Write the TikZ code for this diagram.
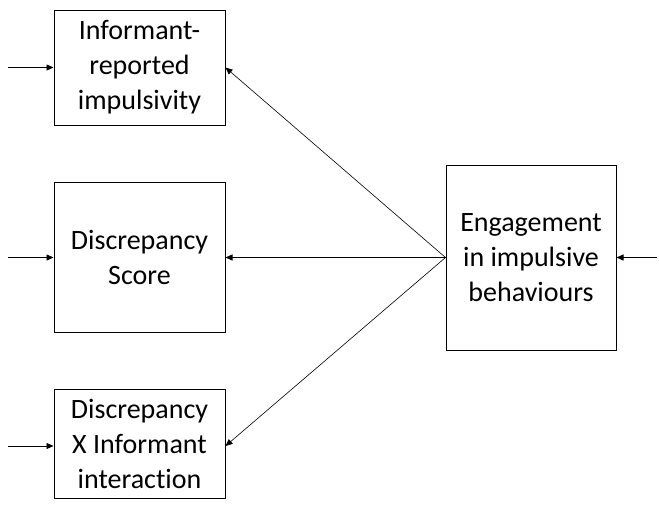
\documentclass[tikz,border=0pt]{standalone}
\usepackage{fontspec}
\setmainfont{Carlito}[Ligatures=NoCommon]
\usetikzlibrary{arrows.meta}

\tikzset{
    factor/.style={draw,line width=1pt,align=center,inner sep=0pt,
        font=\fontsize{28}{35}\selectfont},
    path/.style={-{Triangle[length=7pt,width=6pt]},line width=0.6pt}
}

\begin{document}
\begin{tikzpicture}[x=1pt,y=-1pt]
        \useasboundingbox(0,0)rectangle(659,504);

        \node[factor,minimum width=171pt,minimum height=115pt](inform)at(139.5,67.5){Informant-\\reported\\impulsivity};
        \node[factor,minimum width=171pt,minimum height=150pt](score)at(139.5,257.5){Discrepancy\\Score};
        \node[factor,minimum width=171pt,minimum height=109pt](inter)at(139.5,443.5){Discrepancy\\X Informant\\interaction};
        \node[factor,minimum width=170pt,minimum height=185pt](engage)at(531,257.5){Engagement\\in impulsive\\behaviours};

        \coordinate(e1)at(8,67.5);
        \coordinate(e2)at(8,257.5);
        \coordinate(e3)at(8,446);
        \coordinate(e4)at(657,257.5);

        \draw[path](e1)--(inform.west);
        \draw[path](e2)--(score.west);
        \draw[path](e3)--(inter.west|-e3);
        \draw[path](e4)--(engage.east);

        \draw[path](engage.west)--(inform.east);
        \draw[path](engage.west)--(score.east);
        \draw[path](engage.west)--(inter.east|-e3);
    \end{tikzpicture}
\end{document}
